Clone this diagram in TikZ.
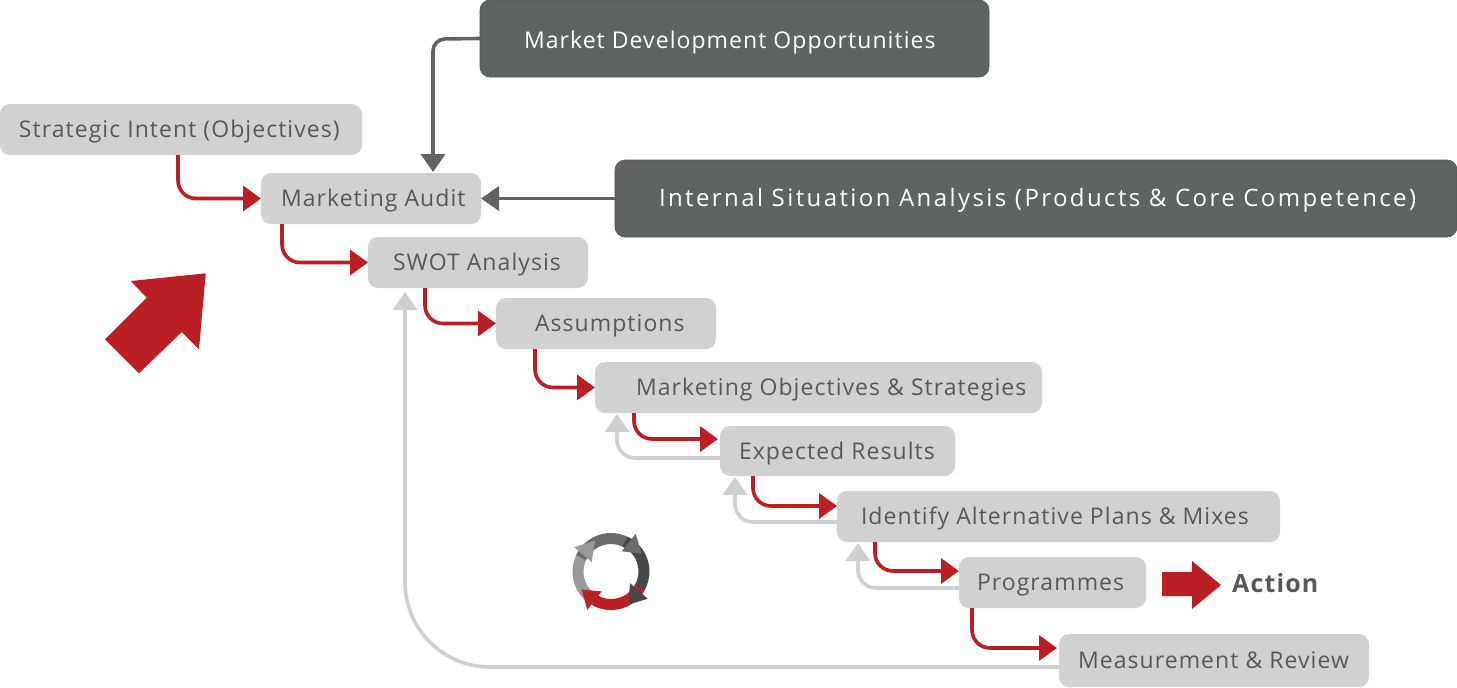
\documentclass[tikz,border=0pt]{standalone}
\usepackage{fontspec}
\setmainfont[LetterSpace=4.6]{Open Sans}
\newfontfamily\widefont[LetterSpace=10]{Open Sans}
\usetikzlibrary{arrows.meta}
\definecolor{boxgray}{HTML}{D1D1D1}
\definecolor{darkbox}{HTML}{5F6364}
\definecolor{txtgray}{HTML}{57585A}
\definecolor{redc}{HTML}{B91F25}
\definecolor{linegray}{HTML}{CFCFCF}
\tikzset{
  basebox/.style={anchor=north west,rounded corners=10pt,inner sep=0pt,outer sep=0pt,text height=20pt,text depth=4pt},
  lightbox/.style={basebox,fill=boxgray,text=txtgray},
  dkbox/.style={basebox,fill=darkbox,draw=darkbox!85!black,line width=.6pt,text=white},
  redline/.style={draw=redc,line width=3.6pt,rounded corners=18pt,-{Triangle[length=18pt,width=25pt]}},
  grayline/.style={draw=linegray,line width=3.6pt,rounded corners=18pt,-{Triangle[length=18pt,width=24pt]}},
  darkline/.style={draw=darkbox,line width=3.6pt,rounded corners=12pt,-{Triangle[length=18pt,width=24pt]}},
  ringarc/.style={line width=11pt},
}
% name, x0, y0, width, height, text offset, style, text
\newcommand{\bx}[8]{\node[#7,minimum height=#5pt] (#1) at (#2,#3) {\makebox[#4pt][l]{\hspace{#6pt}#8}};}
\begin{document}
\begin{tikzpicture}[x=1pt,y=-1pt,font=\fontsize{23}{26}\selectfont]
\useasboundingbox (0,0) rectangle (1457,688);
\bx{market}{480}{0}{509}{77}{44}{dkbox}{\raisebox{-1.5pt}{Market Development Opportunities}}
\bx{strat}{0}{104}{362}{51}{19}{lightbox}{Strategic Intent (Objectives)}
\bx{audit}{261}{173}{220}{51}{20}{lightbox}{Marketing Audit}
\bx{internal}{615}{160}{842}{77}{44}{dkbox}{\fontsize{24}{26}\widefont Internal Situation Analysis (Products \& Core Competence)}
\bx{swot}{368}{237}{220}{51}{25}{lightbox}{SWOT Analysis}
\bx{assume}{496}{298}{220}{51}{39}{lightbox}{Assumptions}
\bx{mobj}{595}{362}{447}{51}{41}{lightbox}{Marketing Objectives \& Strategies}
\bx{expect}{720}{426}{235}{50}{19}{lightbox}{Expected Results}
\bx{ident}{837}{491}{443}{51}{24}{lightbox}{Identify Alternative Plans \& Mixes}
\bx{prog}{959}{557}{187}{51}{18}{lightbox}{Programmes}
\bx{meas}{1059}{634}{310}{53}{19}{lightbox}{Measurement \& Review}
\node[anchor=west,inner sep=0pt,text=txtgray,font=\fontsize{25}{28}\selectfont\bfseries] (action) at (1232,583) {Action};
% red connectors
\draw[redline] ([xshift=178pt]strat.south west) |- (audit.west);
\draw[redline] ([xshift=21pt]audit.south west) |- (swot.west);
\draw[redline] ([xshift=57pt]swot.south west) |- (assume.west);
\draw[redline] ([xshift=39pt]assume.south west) |- (mobj.west);
\draw[redline] ([xshift=39pt]mobj.south west) |- ([xshift=-2pt,yshift=-13pt]expect.north west);
\draw[redline] ([xshift=33pt]expect.south west) |- ([yshift=-15pt]ident.north west);
\draw[redline] ([xshift=38pt]ident.south west) |- ([yshift=-14pt]prog.north west);
\draw[redline] ([xshift=13pt]prog.south west) |- ([xshift=-2pt,yshift=-14pt]meas.north west);
% gray feedback
\draw[grayline] ([yshift=-32pt]expect.north west) -| ([xshift=22pt,yshift=-1pt]mobj.south west);
\draw[grayline] ([yshift=-31pt]ident.north west) -| ([xshift=15pt,yshift=-1pt]expect.south west);
\draw[grayline] ([yshift=-31pt]prog.north west) -| ([xshift=21pt,yshift=-1pt]ident.south west);
\draw[grayline,rounded corners=85pt] ([yshift=-33pt]meas.north west) -| ([xshift=37pt,yshift=-4pt]swot.south west);
% dark connectors
\coordinate (mturn) at (433,39);
\draw[darkline] (market.west) -- (mturn) -- ([xshift=172pt,yshift=1pt]audit.north west);
\draw[darkline] (internal.west) -- (audit.east);
% big red arrows
\fill[redc] (205.7,273.3) -- (199,349.3) -- (181.7,332) -- (139,373.3) -- (105,339.3) -- (146.7,297.7) -- (130.7,281) -- cycle;
\fill[redc] (1162,572) -- (1192,572) -- (1192,561) -- (1221,585) -- (1192,609) -- (1192,596) -- (1162,596) -- cycle;
% cycle icon
\begin{scope}[shift={(611,571.5)}]
\def\R{33}
\draw[ringarc,draw=black!40] (-245:\R) arc[start angle=-245,end angle=-150,radius=\R];
\draw[ringarc,draw=black!58] (-155:\R) arc[start angle=-155,end angle=-58,radius=\R];
\draw[ringarc,draw=black!72] (-65:\R) arc[start angle=-65,end angle=35,radius=\R];
\draw[ringarc,draw=redc] (30:\R) arc[start angle=30,end angle=120,radius=\R];
\fill[black!40] (-36.7,-24.3) -- (-16,-31) -- (-19.3,-9.3) -- cycle;
\fill[black!58] (24.7,-37.7) -- (10.7,-20.3) -- (30.7,-17.7) -- cycle;
\fill[black!72] (19,11.7) -- (36.7,27.3) -- (17.3,33) -- cycle;
\fill[redc] (-29.3,18) -- (-9.3,20) -- (-23.7,38.3) -- cycle;
\end{scope}
\end{tikzpicture}
\end{document}
